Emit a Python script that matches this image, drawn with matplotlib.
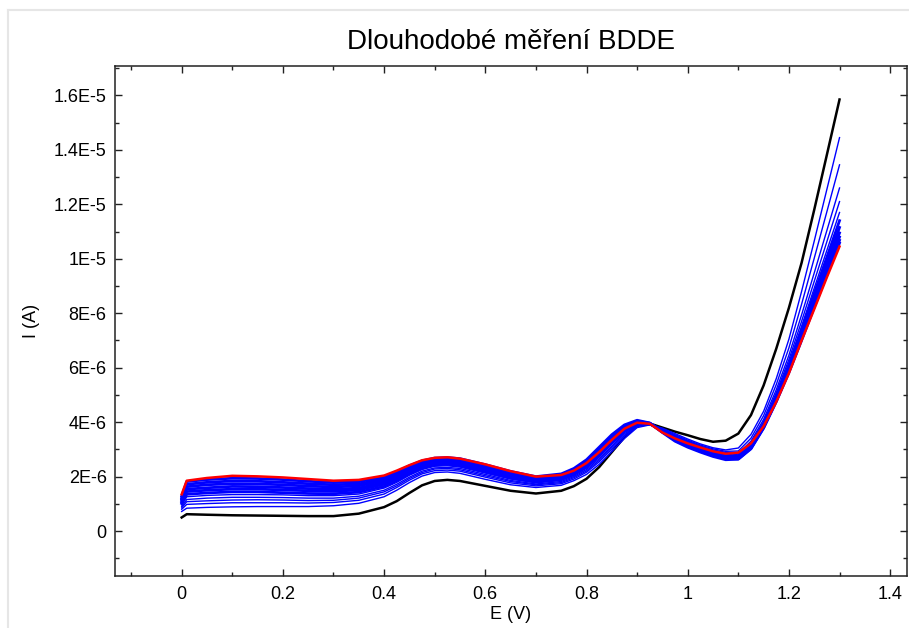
import numpy as np
import matplotlib.pyplot as plt
import matplotlib.ticker as mtick
from matplotlib.lines import Line2D

# potential grid (V)
E = [0.0, 0.01, 0.05, 0.1, 0.15, 0.2, 0.25, 0.3, 0.35,
     0.4, 0.425, 0.45, 0.475, 0.5, 0.525, 0.55, 0.6, 0.65, 0.7, 0.75, 0.775,
     0.8, 0.825, 0.85, 0.875, 0.9, 0.925, 0.95, 0.975, 1.0, 1.025, 1.05, 1.075,
     1.1, 1.125, 1.15, 1.175, 1.2, 1.225, 1.25, 1.275, 1.3]

# currents in uA
i_black = [0.50, 0.62, 0.60, 0.58, 0.57, 0.56, 0.55, 0.55, 0.64,
           0.88, 1.10, 1.40, 1.68, 1.84, 1.88, 1.84, 1.66, 1.48, 1.38, 1.48, 1.65,
           1.92, 2.35, 2.90, 3.45, 3.90, 3.95, 3.80, 3.65, 3.52, 3.38, 3.28, 3.32,
           3.58, 4.26, 5.35, 6.70, 8.20, 9.85, 11.80, 13.82, 15.85]

i_red = [1.35, 1.85, 1.95, 2.03, 2.01, 1.97, 1.91, 1.85, 1.88,
         2.04, 2.22, 2.42, 2.60, 2.69, 2.71, 2.66, 2.45, 2.20, 2.00, 2.06, 2.22,
         2.50, 2.90, 3.35, 3.76, 3.98, 3.94, 3.62, 3.40, 3.22, 3.07, 2.93, 2.84,
         2.88, 3.22, 3.85, 4.75, 5.80, 7.00, 8.15, 9.32, 10.45]

i_blue = [
    [0.72, 0.84, 0.87, 0.89, 0.90, 0.90, 0.90, 0.93, 1.02, 1.26, 1.50, 1.78, 2.02, 2.15, 2.17, 2.12, 1.90, 1.70, 1.60, 1.68, 1.85,
     2.08, 2.45, 2.92, 3.40, 3.80, 3.90, 3.78, 3.58, 3.38, 3.20, 3.06, 2.98, 3.05, 3.55, 4.40, 5.60, 7.05, 8.80, 10.65, 12.55, 14.45],
    [0.80, 0.98, 1.01, 1.04, 1.04, 1.04, 1.03, 1.05, 1.13, 1.36, 1.60, 1.87, 2.10, 2.22, 2.24, 2.20, 1.98, 1.77, 1.66, 1.74, 1.91,
     2.16, 2.54, 3.01, 3.47, 3.84, 3.91, 3.76, 3.54, 3.34, 3.16, 3.02, 2.93, 2.94, 3.41, 4.24, 5.38, 6.73, 8.33, 10.02, 11.73, 13.45],
    [0.85, 1.08, 1.11, 1.14, 1.15, 1.14, 1.12, 1.13, 1.21, 1.44, 1.66, 1.93, 2.15, 2.28, 2.30, 2.25, 2.03, 1.82, 1.70, 1.78, 1.96,
     2.21, 2.60, 3.07, 3.52, 3.86, 3.92, 3.74, 3.51, 3.31, 3.13, 2.98, 2.89, 2.85, 3.30, 4.10, 5.19, 6.46, 7.94, 9.48, 11.04, 12.60],
    [0.90, 1.16, 1.21, 1.24, 1.24, 1.23, 1.21, 1.21, 1.28, 1.50, 1.72, 1.98, 2.20, 2.32, 2.34, 2.30, 2.08, 1.86, 1.73, 1.82, 2.00,
     2.26, 2.66, 3.12, 3.57, 3.89, 3.92, 3.73, 3.49, 3.28, 3.10, 2.95, 2.86, 2.80, 3.23, 4.02, 5.08, 6.30, 7.70, 9.17, 10.63, 12.10],
    [0.96, 1.26, 1.31, 1.34, 1.34, 1.33, 1.30, 1.30, 1.36, 1.58, 1.79, 2.05, 2.26, 2.38, 2.40, 2.35, 2.13, 1.91, 1.77, 1.86, 2.04,
     2.31, 2.72, 3.19, 3.62, 3.92, 3.93, 3.71, 3.46, 3.25, 3.07, 2.92, 2.83, 2.76, 3.17, 3.96, 5.00, 6.18, 7.52, 8.92, 10.31, 11.70],
    [1.01, 1.35, 1.40, 1.44, 1.44, 1.41, 1.38, 1.37, 1.43, 1.64, 1.85, 2.10, 2.31, 2.43, 2.45, 2.40, 2.18, 1.95, 1.81, 1.90, 2.08,
     2.36, 2.78, 3.24, 3.66, 3.94, 3.94, 3.70, 3.43, 3.22, 3.04, 2.89, 2.79, 2.73, 3.13, 3.91, 4.93, 6.08, 7.38, 8.73, 10.06, 11.40],
    [1.07, 1.45, 1.50, 1.54, 1.54, 1.51, 1.48, 1.46, 1.51, 1.72, 1.92, 2.16, 2.37, 2.48, 2.50, 2.45, 2.23, 2.00, 1.85, 1.94, 2.13,
     2.41, 2.84, 3.30, 3.71, 3.97, 3.94, 3.68, 3.41, 3.19, 3.01, 2.86, 2.76, 2.70, 3.10, 3.87, 4.88, 6.00, 7.27, 8.58, 9.87, 11.15],
    [1.12, 1.54, 1.59, 1.64, 1.63, 1.60, 1.56, 1.53, 1.58, 1.79, 1.98, 2.22, 2.42, 2.53, 2.55, 2.50, 2.28, 2.05, 1.88, 1.98, 2.17,
     2.46, 2.90, 3.36, 3.76, 3.99, 3.95, 3.67, 3.38, 3.17, 2.99, 2.83, 2.72, 2.68, 3.07, 3.84, 4.84, 5.94, 7.18, 8.46, 9.72, 10.95],
    [1.17, 1.63, 1.70, 1.74, 1.73, 1.70, 1.65, 1.62, 1.66, 1.86, 2.05, 2.28, 2.47, 2.58, 2.60, 2.56, 2.34, 2.10, 1.92, 2.02, 2.21,
     2.52, 2.96, 3.42, 3.81, 4.02, 3.96, 3.65, 3.35, 3.14, 2.96, 2.80, 2.69, 2.66, 3.05, 3.82, 4.80, 5.89, 7.11, 8.37, 9.59, 10.80],
    [1.22, 1.72, 1.79, 1.84, 1.83, 1.79, 1.74, 1.70, 1.73, 1.93, 2.11, 2.34, 2.52, 2.63, 2.65, 2.61, 2.39, 2.14, 1.96, 2.06, 2.26,
     2.57, 3.02, 3.48, 3.85, 4.04, 3.96, 3.64, 3.33, 3.11, 2.93, 2.77, 2.66, 2.65, 3.04, 3.80, 4.78, 5.86, 7.05, 8.29, 9.49, 10.68],
    [1.28, 1.82, 1.89, 1.94, 1.93, 1.89, 1.83, 1.78, 1.81, 2.00, 2.18, 2.40, 2.58, 2.68, 2.70, 2.66, 2.44, 2.19, 2.00, 2.10, 2.30,
     2.62, 3.08, 3.54, 3.90, 4.07, 3.97, 3.62, 3.30, 3.08, 2.90, 2.74, 2.62, 2.64, 3.02, 3.78, 4.75, 5.82, 7.00, 8.22, 9.40, 10.58],
]

x_ticks = [0, 0.2, 0.4, 0.6, 0.8, 1.0, 1.2, 1.4]
x_tick_labels = ["0", "0.2", "0.4", "0.6", "0.8", "1", "1.2", "1.4"]
y_ticks = [0, 2e-6, 4e-6, 6e-6, 8e-6, 1e-5, 1.2e-5, 1.4e-5, 1.6e-5]
y_tick_labels = ["0", "2E-6", "4E-6", "6E-6", "8E-6", "1E-5", "1.2E-5", "1.4E-5", "1.6E-5"]

plt.rcParams['font.family'] = ['Liberation Sans', 'DejaVu Sans']

fig = plt.figure(figsize=(9.09, 6.28), dpi=100)
ax = fig.add_axes([0.1265, 0.0828, 0.871, 0.8121])

ua = 1e-6
ax.plot(E, np.array(i_black) * ua, color="black", lw=1.8, zorder=2)
for k, curva in enumerate(i_blue):
    lw = 1.0 if k < 5 else 2.0
    ax.plot(E, np.array(curva) * ua, color="blue", lw=lw, zorder=3)
ax.plot(E, np.array(i_red) * ua, color="red", lw=1.8, zorder=4)

ax.set_xlim(-0.1318, 1.4328)
ax.set_ylim(-1.65e-6, 17.08e-6)
ax.set_xticks(x_ticks)
ax.set_xticklabels(x_tick_labels)
ax.set_yticks(y_ticks)
ax.set_yticklabels(y_tick_labels)
ax.xaxis.set_minor_locator(mtick.MultipleLocator(0.1))
ax.yaxis.set_minor_locator(mtick.MultipleLocator(1e-6))
ax.tick_params(which="both", direction="in", top=True, right=True, width=1, color="#222222")
ax.tick_params(which="major", length=5, labelsize=13)
ax.tick_params(axis="x", which="major", pad=7)
ax.tick_params(axis="y", which="major", pad=6)
ax.tick_params(which="minor", length=3)
for s in ax.spines.values():
    s.set_color("#222222")
    s.set_linewidth(1.1)

ax.set_title("Dlouhodobé měření BDDE", fontsize=20, pad=12)
ax.set_xlabel("E (V)", fontsize=13, labelpad=2)
ax.set_ylabel("I (A)", fontsize=13, labelpad=10)

# light gray frame of the original window
fig.add_artist(Line2D([8 / 909, 8 / 909], [0, 1 - 10 / 628], color="#e6e6e6", lw=1.5))
fig.add_artist(Line2D([8 / 909, 1], [1 - 10 / 628, 1 - 10 / 628], color="#e6e6e6", lw=1.5))

fig.savefig("out.png", dpi=100)
